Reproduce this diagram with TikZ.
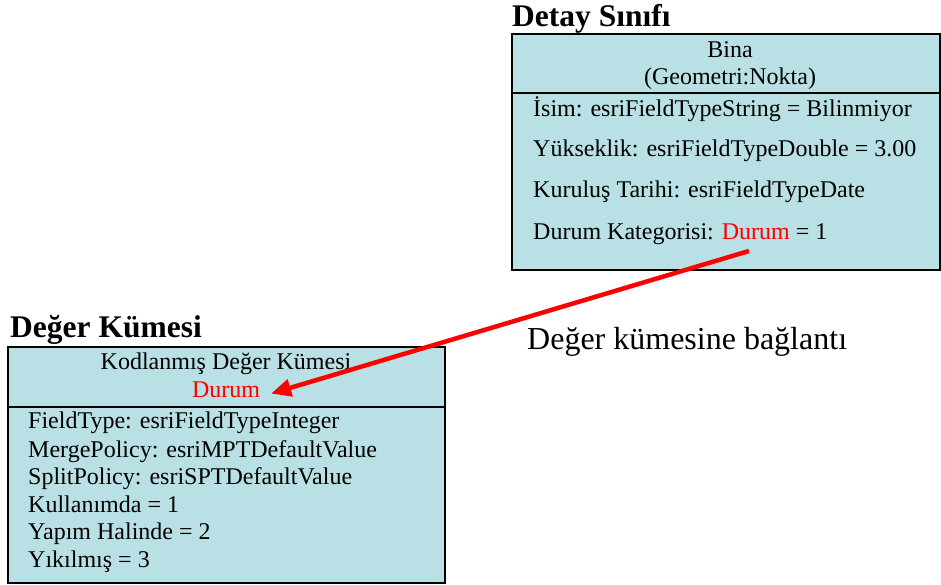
\documentclass[tikz,border=0pt]{standalone}
\usepackage{fontspec}
\setmainfont{Liberation Serif}
\usetikzlibrary{arrows.meta}
\definecolor{boxfill}{RGB}{185,224,228}
\definecolor{linkred}{RGB}{255,0,0}
\tikzset{
  umlbox/.style={draw=black, line width=2.4pt, fill=boxfill},
  divider/.style={draw=black, line width=1.8pt},
  heading/.style={font=\fontsize{31.5}{34}\selectfont\bfseries, anchor=base west, inner sep=0pt},
  entry/.style={font=\fontsize{24}{27}\selectfont, anchor=base west, inner sep=0pt},
  centred/.style={font=\fontsize{24}{27}\selectfont, anchor=base, inner sep=0pt},
  caption/.style={font=\fontsize{32}{35}\selectfont, anchor=base west, inner sep=0pt},
  link/.style={draw=linkred, line width=4.5pt, -{Triangle[length=20pt,width=17pt]}, shorten >=-2pt}
}
\begin{document}
\begin{tikzpicture}[x=1pt, y=-1pt]
\useasboundingbox (0,0) rectangle (941,585);

% Feature class box
\node[heading] (titleA) at (512,27) {Detay Sınıfı};
\path[umlbox] (512,34) rectangle (940,270);
\draw[divider] (512,93) -- (940,93);
\node[centred] (bina) at (730,58) {Bina};
\node[centred] (geom) at (730,85) {(Geometri:Nokta)};
\node[entry] (isim) at (533,117) {İsim: esriFieldTypeString = Bilinmiyor};
\node[entry] (yuk) at (533,157) {Yükseklik: esriFieldTypeDouble = 3.00};
\node[entry] (kur) at (533,198) {Kuruluş Tarihi: esriFieldTypeDate};
\node[entry] (dur) at (533,240) {Durum Kategorisi: \textcolor{linkred}{Durum} = 1};
\coordinate (linkstart) at (749,251);

% Coded value domain box
\node[heading] (titleB) at (10,337) {Değer Kümesi};
\path[umlbox] (8,347) rectangle (445,583);
\draw[divider] (8,407) -- (445,407);
\node[centred] (kvk) at (226,369) {Kodlanmış Değer Kümesi};
\node[centred, text=linkred] (durumB) at (226,397) {Durum};
\node[entry] (ft) at (28,428) {FieldType: esriFieldTypeInteger};
\node[entry] (mp) at (28,457) {MergePolicy: esriMPTDefaultValue};
\node[entry] (sp) at (28,484) {SplitPolicy: esriSPTDefaultValue};
\node[entry] (k1) at (28,512) {Kullanımda = 1};
\node[entry] (k2) at (28,539) {Yapım Halinde = 2};
\node[entry] (k3) at (28,567) {Yıkılmış = 3};

% Link between the field and its domain
\coordinate (linkend) at (273,393);
\draw[link] (linkstart) -- (linkend);
\node[caption] (lbl) at (527,349) {Değer kümesine bağlantı};
\end{tikzpicture}
\end{document}
